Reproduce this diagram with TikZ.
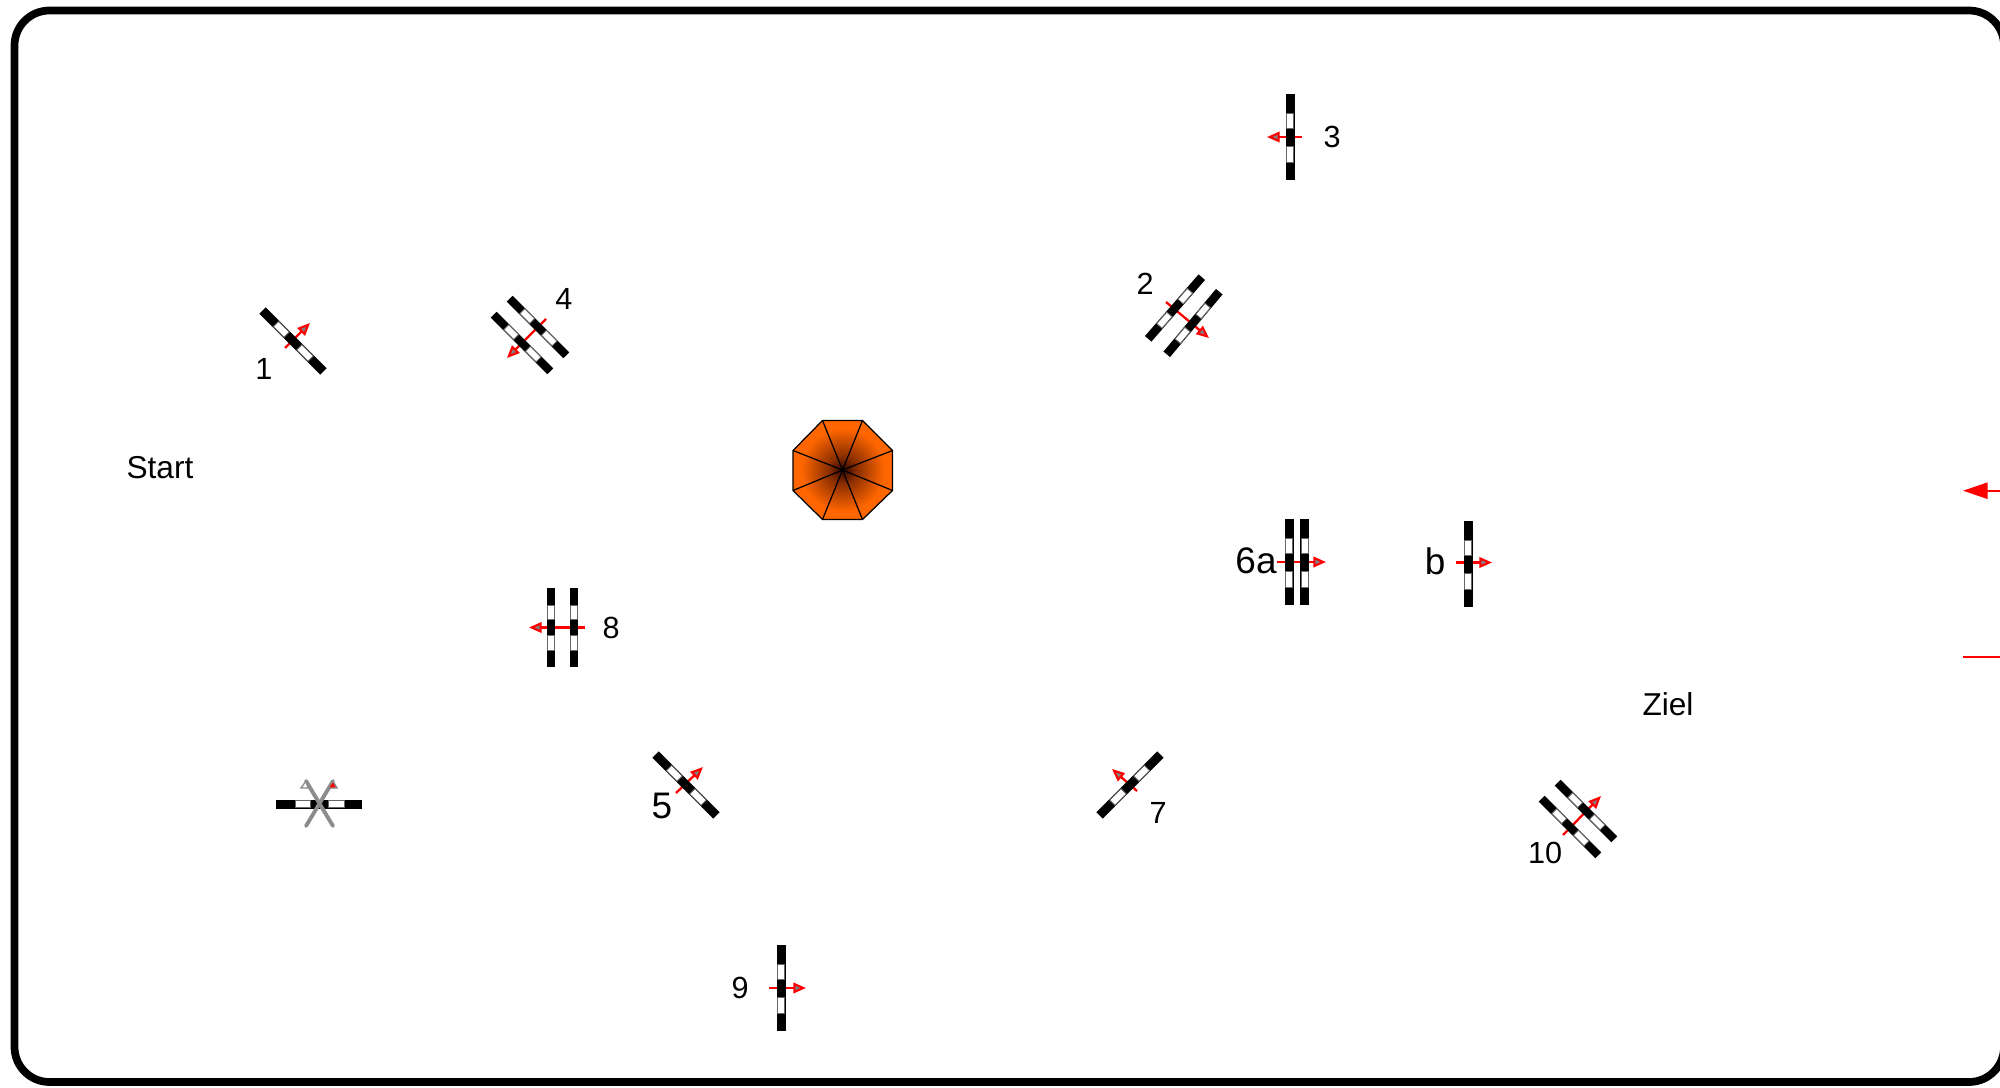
\documentclass[tikz,border=0pt]{standalone}
\usepackage{fontspec}
\setmainfont{Liberation Sans}
\usetikzlibrary{arrows.meta}
\definecolor{roofdark}{HTML}{2E0500}
\definecolor{roofmid}{HTML}{8A2E00}
\definecolor{rooforange}{HTML}{FF6600}
\pgfdeclareradialshading{roofshade}{\pgfpointorigin}{
  color(0bp)=(roofdark); color(7bp)=(roofmid); color(21bp)=(rooforange); color(100bp)=(rooforange)}
\tikzset{
	numlabel/.style={font=\fontsize{8.7pt}{10pt}\selectfont, inner sep=0pt},
	wordlabel/.style={font=\fontsize{9pt}{11pt}\selectfont, inner sep=0pt},
	biglabel/.style={font=\fontsize{10.5pt}{12pt}\selectfont, inner sep=0pt},
	passarrow/.style={draw=red, line width=0.65pt, -{Triangle[length=3.6pt, width=3pt, fill=black!50, line width=0.6pt]}},
	gatebar/.pic={
		\fill[black] (-4.5,-43) rectangle (4.5,43);
		\draw[black!60, fill=white, line width=0.25pt] (-3.7,-24) rectangle (3.7,-9);
		\draw[black!60, fill=white, line width=0.25pt] (-3.7,9) rectangle (3.7,25);
	}
}
\begin{document}
\begin{tikzpicture}[x=0.01cm, y=-0.01cm]
      \useasboundingbox (0,0) rectangle (2000,1088);
      % frame runs off the right edge
      \draw[line width=2.2pt, rounded corners=0.35cm] (14.5,10.5) rectangle (2004,1082);
      % roof in the middle
      \shadedraw[shading=roofshade, line width=0.35pt] (822.5,420.5) -- (862.5,420.5) -- (892.5,450.5) -- (892.5,490.5)
        -- (862.5,519.5) -- (822.5,519.5) -- (793,490.5) -- (793,450.5) -- cycle;
      \foreach \x/\y in {822.5/420.5, 862.5/420.5, 892.5/450.5, 892.5/490.5, 862.5/519.5, 822.5/519.5, 793/490.5, 793/450.5}
        \draw[line width=0.35pt] (842.5,470) -- (\x,\y);
      % gate 1
      \draw[passarrow] (285,348) -- (310,323);
      \pic[rotate=45] at (293,341) {gatebar};
      % gate 4
      \draw[passarrow] (546,319) -- (507,358);
      \pic[rotate=45, scale=0.93] at (538,327) {gatebar};
      \pic[rotate=45, scale=0.93] at (522,343) {gatebar};
      % gate 2
      \draw[passarrow] (1166,302) -- (1209,338);
      \pic[rotate=-41, scale=0.95] at (1175,308) {gatebar};
      \pic[rotate=-40, scale=0.95] at (1193,323) {gatebar};
      % gate 3
      \draw[passarrow] (1302,137) -- (1267,137);
      \pic at (1290,137) {gatebar};
      % gate 6a
      \draw[passarrow] (1277,562) -- (1326,562);
      \pic at (1289,562) {gatebar};
      \pic at (1304.7,562) {gatebar};
      % gate b
      \draw[passarrow] (1456,562.5) -- (1492,562.5);
      \pic at (1468,564) {gatebar};
      % gate 8
      \draw[passarrow] (585,627.5) -- (529,627.5);
      \pic[scale=0.93] at (551,627.5) {gatebar};
      \pic[scale=0.93] at (574,627.5) {gatebar};
      % gate 9
      \draw[passarrow] (769,988) -- (806,988);
      \pic at (781,988) {gatebar};
      % gate 5
      \draw[passarrow] (676,793) -- (703,767);
      \pic[rotate=45] at (686,785) {gatebar};
      % gate 7
      \draw[passarrow] (1137,791) -- (1112,769);
      \pic[rotate=-45] at (1130,785) {gatebar};
      % gate 10
      \draw[passarrow] (1563,835) -- (1601,796);
      \pic[rotate=45, scale=0.93] at (1586,811) {gatebar};
      \pic[rotate=45, scale=0.93] at (1570,827) {gatebar};
      % crossed out gate
      \pic[rotate=90] at (319,804) {gatebar};
      \draw[black!45, line width=1.1pt, line cap=round] (306,781) -- (333,826);
      \draw[black!45, line width=1.1pt, line cap=round] (333,781) -- (306,826);
      \draw[black!45, fill=white, line width=0.4pt] (306,781) -- (301,788) -- (308,788) -- cycle;
      \draw[black!45, fill=red, line width=0.4pt] (333,781) -- (328,788) -- (337,788) -- cycle;
      % arrows at the right edge
      \draw[red, line width=0.6pt, -{Triangle[length=7pt, width=4.6pt]}] (2010,490.7) -- (1963,490.7);
      \draw[red, line width=0.6pt] (1963,657) -- (2010,657);
      % labels
      \node[wordlabel] (start) at (160,468) {Start};
      \node[wordlabel] (ziel) at (1668,704) {Ziel};
      \node[numlabel] (n1) at (264,369) {1};
      \node[numlabel] (n4) at (564,299) {4};
      \node[numlabel] (n2) at (1145,284) {2};
      \node[numlabel] (n3) at (1332,137) {3};
      \node[biglabel] (n6a) at (1256,561) {6a};
      \node[biglabel] (nb) at (1435,561) {b};
      \node[numlabel] (n8) at (611,628) {8};
      \node[biglabel] (n5) at (662,806) {5};
      \node[numlabel] (n7) at (1158,813) {7};
      \node[numlabel] (n10) at (1545,853) {10};
      \node[numlabel] (n9) at (740,988) {9};
    \end{tikzpicture}
\end{document}
